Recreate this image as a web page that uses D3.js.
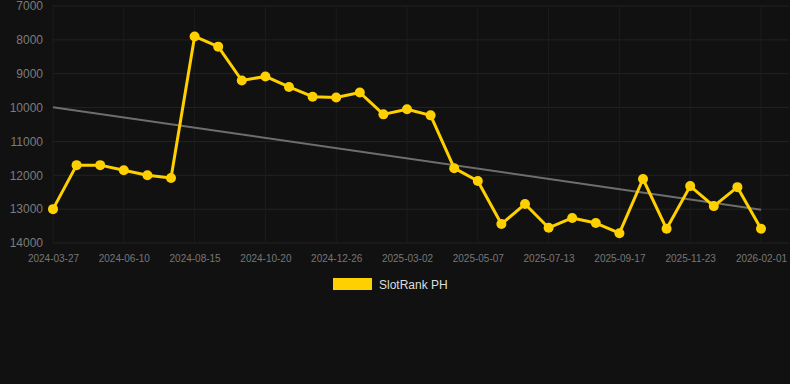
<!DOCTYPE html>
<html>
<head>
<meta charset="utf-8">
<script src="https://cdn.jsdelivr.net/npm/d3@7/dist/d3.min.js"></script>
<style>
  html, body { margin: 0; padding: 0; background: #111111; }
  svg { display: block; font-family: Arial, "Liberation Sans", sans-serif; }
</style>
</head>
<body>
<svg id="chart" width="790" height="384"></svg>
<script>
const dates = [
  "2024-03-27","2024-04-21","2024-05-16","2024-06-10","2024-07-02","2024-07-24",
  "2024-08-15","2024-09-06","2024-09-28","2024-10-20","2024-11-11","2024-12-04",
  "2024-12-26","2025-01-17","2025-02-08","2025-03-02","2025-03-24","2025-04-15",
  "2025-05-07","2025-05-29","2025-06-21","2025-07-13","2025-08-04","2025-08-26",
  "2025-09-17","2025-10-09","2025-11-01","2025-11-23","2025-12-16","2026-01-08",
  "2026-02-01"
];
const rankValues = [
  13000, 11700, 11700, 11850, 12000, 12080,
  7900, 8200, 9200, 9080, 9390, 9680,
  9700, 9555, 10200, 10050, 10230, 11790,
  12170, 13440, 12850, 13550, 13260, 13410,
  13710, 12110, 13580, 12320, 12910, 12350,
  13580
];
const xTickLabels = [
  "2024-03-27","2024-06-10","2024-08-15","2024-10-20","2024-12-26","2025-03-02",
  "2025-05-07","2025-07-13","2025-09-17","2025-11-23","2026-02-01"
];
const yTicks = [7000, 8000, 9000, 10000, 11000, 12000, 13000, 14000];
const seriesName = "SlotRank PH";

(function () {
const svg = d3.select("#chart");
const mLeft = 53, mRight = 761, gridRight = 789, mTop = 6, mBottom = 243;

const x = d3.scalePoint().domain(dates).range([mLeft, mRight]);
const y = d3.scaleLinear().domain([7000, 14000]).range([mTop, mBottom]);

// horizontal grid
svg.append("g").selectAll("line").data(yTicks).join("line")
  .attr("x1", mLeft).attr("x2", gridRight)
  .attr("y1", d => y(d)).attr("y2", d => y(d))
  .attr("stroke", "#232323").attr("stroke-width", 1);

// vertical grid
svg.append("g").selectAll("line").data(xTickLabels).join("line")
  .attr("x1", d => x(d)).attr("x2", d => x(d))
  .attr("y1", mTop).attr("y2", mBottom)
  .attr("stroke", "#1c1c1c").attr("stroke-width", 1);

// y axis
const yAxis = d3.axisLeft(y).tickValues(yTicks).tickSize(0).tickPadding(10).tickFormat(d3.format("d"));
const gy = svg.append("g").attr("transform", `translate(${mLeft},0)`).call(yAxis);
gy.select(".domain").remove();
gy.selectAll("text").attr("fill", "#7c7c7c").style("font-size", "12px")
  .style("font-family", "Arial, 'Liberation Sans', sans-serif");

// x axis
const xAxis = d3.axisBottom(x).tickValues(xTickLabels).tickSize(0).tickPadding(12);
const gx = svg.append("g").attr("transform", `translate(0,${mBottom})`).call(xAxis);
gx.select(".domain").remove();
gx.selectAll("text").attr("fill", "#777777").style("font-size", "10px")
  .style("font-family", "Arial, 'Liberation Sans', sans-serif");

// trend line (least squares)
const n = rankValues.length;
const idx = d3.range(n);
const mx = d3.mean(idx), my = d3.mean(rankValues);
const slope = d3.sum(idx, i => (i - mx) * (rankValues[i] - my)) / d3.sum(idx, i => (i - mx) ** 2);
const intercept = my - slope * mx;
svg.append("line")
  .attr("x1", x(dates[0])).attr("y1", y(intercept))
  .attr("x2", x(dates[n - 1])).attr("y2", y(intercept + slope * (n - 1)))
  .attr("stroke", "#6e6e6e").attr("stroke-width", 2);

// series line
const color = "#ffd000";
const line = d3.line().x((d, i) => x(dates[i])).y(d => y(d));
svg.append("path").datum(rankValues)
  .attr("d", line).attr("fill", "none")
  .attr("stroke", color).attr("stroke-width", 3).attr("stroke-linejoin", "round");

svg.append("g").selectAll("circle").data(rankValues).join("circle")
  .attr("cx", (d, i) => x(dates[i])).attr("cy", d => y(d))
  .attr("r", 5).attr("fill", color);

// legend
svg.append("rect").attr("x", 333).attr("y", 278).attr("width", 39).attr("height", 12)
  .attr("fill", color);
svg.append("text").attr("x", 379).attr("y", 289).text(seriesName)
  .attr("fill", "#dddddd").style("font-size", "12px");
})();
</script>
</body>
</html>
